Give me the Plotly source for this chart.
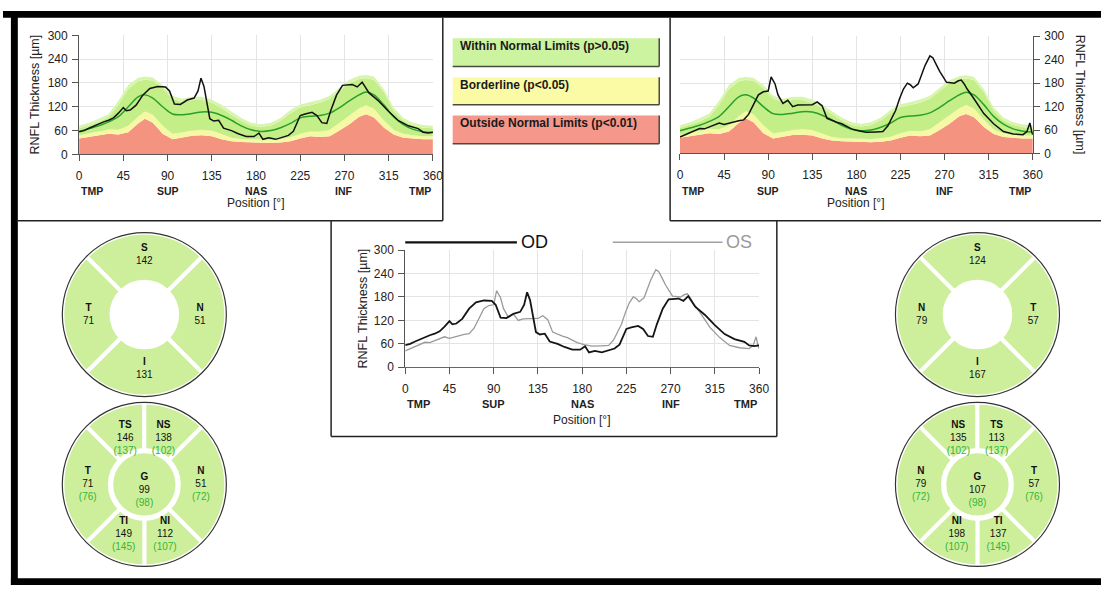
import plotly.graph_objects as go

W, H = 1111, 592
def px(x): return x / W
def py(y): return 1 - y / H

FONT = "Liberation Sans, Arial, sans-serif"

# ---------------- data ----------------
NORM_DEG = [0,10,20,30,40,50,60,67,75,85,95,105,115,125,135,145,155,165,175,185,195,205,215,225,235,245,255,265,275,285,292,300,310,320,330,340,350,360]
NORM_RED = [40,44,48,52,50,56,78,90,80,52,38,42,47,48,46,38,33,31,30,29,29,30,33,40,46,44,46,60,76,95,101,93,68,50,42,40,38,38]
NORM_YELLOW = [48,53,58,63,62,72,95,108,100,72,52,55,60,62,60,50,42,39,38,37,37,39,43,52,58,57,62,80,98,116,124,115,86,62,52,48,46,46]
NORM_GREEN_INNER = [66,73,82,94,125,165,184,188,186,167,140,132,137,137,130,117,100,85,73,69,73,85,104,118,124,130,140,160,180,190,192,188,157,110,85,73,67,66]
NORM_GREEN = [72,80,90,102,135,175,193,196,194,175,148,140,145,145,138,125,108,92,80,76,80,92,112,126,132,138,148,168,188,198,200,196,165,118,92,80,74,72]
NORM_MEAN = [58,65,72,82,95,120,145,150,142,120,102,100,103,107,106,98,86,72,62,58,60,67,78,92,96,98,104,118,135,150,157,150,125,95,75,63,57,55]

OD_DEG = [0,5,10,15,20,25,30,35,40,45,48,52,58,65,72,80,88,92,97,103,110,117,121,124,127,130,133,137,142,147,155,162,170,178,183,187,193,200,207,213,218,225,230,237,242,247,252,256,262,268,278,283,288,295,305,315,325,335,345,350,355,360]
OD_THK = [57,60,66,72,78,82,86,92,104,118,110,112,124,150,166,171,170,160,127,126,137,142,160,192,172,128,90,84,86,66,60,52,45,45,54,38,42,38,44,48,58,98,102,106,98,80,78,110,150,174,176,170,182,155,134,108,85,72,65,56,54,56]

OS_DEG = [0,5,10,15,20,25,30,35,40,45,50,55,60,65,70,75,80,85,90,93,97,100,105,110,115,120,128,135,140,145,150,155,160,165,175,182,190,200,207,212,216,220,224,228,232,235,238,243,247,250,255,258,262,265,272,277,280,284,287,290,293,300,310,320,330,340,350,354,357,359,360]
OS_THK = [42,48,54,60,64,63,68,72,78,74,78,80,84,86,100,125,150,158,160,196,178,150,128,136,120,124,125,125,132,122,90,84,80,76,63,58,54,55,56,70,90,110,140,165,180,176,168,178,205,225,250,245,225,210,182,180,180,186,188,178,165,140,102,76,56,50,48,56,78,55,48]

X_TICKS = [0, 45, 90, 135, 180, 225, 270, 315, 360]
Y_TICKS = [0, 60, 120, 180, 240, 300]
SECTOR_POS = [0, 90, 180, 270, 360]
SECTOR_NAMES = ["TMP", "SUP", "NAS", "INF", "TMP"]

# quadrant circles (theta of sector centre, 0 = right, counter-clockwise)
QUAD_THETA = [90, 180, 270, 0]
OD_QUAD_NAMES = ["S", "T", "I", "N"]
OD_QUAD_VALUES = [142, 71, 131, 51]
OS_QUAD_NAMES = ["S", "N", "I", "T"]
OS_QUAD_VALUES = [124, 79, 167, 57]

# six-sector circles
SECT_THETA = [112.5, 67.5, 0, 292.5, 247.5, 180]
SECT_WIDTH = [45, 45, 90, 45, 45, 90]
OD_SECT_NAMES = ["TS", "NS", "N", "NI", "TI", "T"]
OD_SECT_VALUES = [146, 138, 51, 112, 149, 71]
OD_SECT_NORMS = [137, 102, 72, 107, 145, 76]
OD_G = (99, 98)
OS_SECT_NAMES = ["NS", "TS", "T", "TI", "NI", "N"]
OS_SECT_VALUES = [135, 113, 57, 137, 198, 79]
OS_SECT_NORMS = [102, 137, 76, 145, 107, 72]
OS_G = (107, 98)

# ---------------- styles ----------------
C_RED = "#f4937f"
C_YEL = "#f7f8a4"
C_GRN = "#c3ee88"
C_GRN_FRINGE = "#d8f5ae"
C_MEAN = "#2a9f2a"
C_SECT = "#cdef9c"
C_NORMTXT = "#35b535"
GRID = "#e4e4e4"
AXC = "#555555"

fig = go.Figure()

def band(xa, ya, y, color, fill):
    fig.add_trace(go.Scatter(x=NORM_DEG, y=y, xaxis=xa, yaxis=ya, mode="lines",
                             line=dict(width=0, color=color), fill=fill, fillcolor=color,
                             hoverinfo="skip", showlegend=False))

def add_profile(xa, ya, deg, thk):
    band(xa, ya, NORM_RED, C_RED, "tozeroy")
    band(xa, ya, NORM_YELLOW, C_YEL, "tonexty")
    band(xa, ya, NORM_GREEN_INNER, C_GRN, "tonexty")
    band(xa, ya, NORM_GREEN, C_GRN_FRINGE, "tonexty")
    fig.add_trace(go.Scatter(x=NORM_DEG, y=NORM_MEAN, xaxis=xa, yaxis=ya, mode="lines",
                             line=dict(width=1.5, color=C_MEAN, shape="spline"),
                             hoverinfo="skip", showlegend=False))
    fig.add_trace(go.Scatter(x=deg, y=thk, xaxis=xa, yaxis=ya, mode="lines",
                             line=dict(width=1.5, color="#111111"), showlegend=False))

add_profile("x", "y", OD_DEG, OD_THK)
add_profile("x2", "y2", OS_DEG, OS_THK)

fig.add_trace(go.Scatter(x=OS_DEG, y=OS_THK, xaxis="x3", yaxis="y3", mode="lines",
                         line=dict(width=1.3, color="#9a9a9a"), showlegend=False))
fig.add_trace(go.Scatter(x=OD_DEG, y=OD_THK, xaxis="x3", yaxis="y3", mode="lines",
                         line=dict(width=1.8, color="#151515"), showlegend=False))

def xaxis(dom, anchor, linecolor=AXC, size=12):
    return dict(domain=dom, anchor=anchor, range=[0, 360], tickvals=X_TICKS,
                ticktext=[str(v) for v in X_TICKS], showgrid=True, gridcolor=GRID,
                zeroline=False, showline=True, linecolor=linecolor, linewidth=1,
                ticks="outside", ticklen=6, tickcolor=AXC, ticklabelstandoff=4,
                tickfont=dict(family=FONT, size=size, color="#222"), fixedrange=True)

def yaxis(dom, anchor, side="left", size=12):
    return dict(domain=dom, anchor=anchor, side=side, range=[0, 300], tickvals=Y_TICKS,
                showgrid=True, gridcolor=GRID, zeroline=False, showline=True,
                linecolor=AXC, linewidth=1, ticks="outside", ticklen=6, tickcolor=AXC,
                ticklabelstandoff=2,
                tickfont=dict(family=FONT, size=size, color="#222"), fixedrange=True)

# plot areas (pixels)
TL = (77, 435, 29, 151)
TR = (685, 1042, 30, 150)
CT = (407, 765, 249, 369)

def xd(a): return [px(a[0]), px(a[1])]
def yd(a): return [py(a[3]), py(a[2])]

layout_axes = dict(
    xaxis=xaxis(xd(TL), "y"), yaxis=yaxis(yd(TL), "x"),
    xaxis2=xaxis(xd(TR), "y2"), yaxis2=yaxis(yd(TR), "x2", side="right"),
    xaxis3=xaxis(xd(CT), "y3", linecolor="#a0503c"), yaxis3=yaxis(yd(CT), "x3"),
)

annotations = []
def txt(x, y, t, size=11, color="#222", xref="paper", yref="paper", angle=0, xanchor="center", yanchor="middle"):
    annotations.append(dict(x=x, y=y, xref=xref, yref=yref, text=t, showarrow=False,
                            textangle=angle, xanchor=xanchor, yanchor=yanchor,
                            font=dict(family=FONT, size=size, color=color)))

# sector labels under x axes + titles
for ax, box, ylab, ytit, fs in [("x", TL, 188, 201, 10.5), ("x2", TR, 188, 201, 10.5), ("x3", CT, 407, 423, 11)]:
    for i, (pos, name) in enumerate(zip(SECTOR_POS, SECTOR_NAMES)):
        anchor = "left" if i == 0 else ("right" if i == len(SECTOR_POS) - 1 else "center")
        txt(pos, py(ylab), "<b>%s</b>" % name, size=fs, xref=ax, xanchor=anchor)
    txt(px((box[0] + box[1]) / 2), py(ytit), "Position [°]", size=12)

txt(px(32), py(90), "RNFL Thickness [µm]", size=12.5, angle=-90)
txt(px(1090), py(90), "RNFL Thickness [µm]", size=12.5, angle=90)
txt(px(364), py(309), "RNFL Thickness [µm]", size=12.5, angle=-90)

# center legend
txt(px(522), py(241), "OD", size=18, color="#111", xanchor="left")
txt(px(730), py(241), "OS", size=18, color="#9a9a9a", xanchor="left")

# legend boxes
LEG = [("Within Normal Limits (p>0.05)", "#ccf3a0", 32, 61),
       ("Borderline (p<0.05)", "#fbfba6", 72, 100),
       ("Outside Normal Limits (p<0.01)", "#f5978a", 111, 140)]

shapes = []
for label, col, y0, y1 in LEG:
    shapes.append(dict(type="rect", xref="paper", yref="paper", x0=px(455), x1=px(664),
                       y0=py(y1), y1=py(y0), fillcolor=col, line=dict(width=0), layer="below"))
    shapes.append(dict(type="line", xref="paper", yref="paper", x0=px(455), x1=px(664),
                       y0=py(y1), y1=py(y1), line=dict(color="#4b4b3b", width=1.5)))
    shapes.append(dict(type="line", xref="paper", yref="paper", x0=px(664), x1=px(664),
                       y0=py(y1), y1=py(y0), line=dict(color="#4b4b3b", width=1.5)))
    txt(px(460), py(y0 + 8), "<b>%s</b>" % label, size=12, color="#1a1a1a", xanchor="left")

def line(x0, y0, x1, y1, color="#222", width=1.5):
    shapes.append(dict(type="line", xref="paper", yref="paper", x0=px(x0), x1=px(x1),
                       y0=py(y0), y1=py(y1), line=dict(color=color, width=width)))

# panel frames
line(445, 11, 445, 219)
line(15, 219, 445, 219)
line(675, 11, 675, 219)
line(675, 219, 1111, 219)
line(332, 219, 332, 440)
line(332, 440, 783, 440)
line(783, 219, 783, 440)
# center legend lines
line(407, 241, 520, 241, color="#111", width=2.2)
line(617, 241, 728, 241, color="#a0a0a0", width=1.5)

# outer black frame
for x0, y0, x1, y1 in [(0, 4, 1111, 11), (8, 4, 15, 592), (8, 585, 1111, 592)]:
    shapes.append(dict(type="rect", xref="paper", yref="paper", x0=px(x0), x1=px(x1),
                       y0=py(y1), y1=py(y0), fillcolor="black", line=dict(width=0)))

# ---------------- circles ----------------
def polar_layout(cx, cy, r):
    return dict(domain=dict(x=[px(cx - r), px(cx + r)], y=[py(cy + r), py(cy - r)]),
                bgcolor="rgba(0,0,0,0)",
                radialaxis=dict(visible=False, range=[0, 1]),
                angularaxis=dict(visible=True, showline=True, linecolor="#333", linewidth=1.2,
                                 showgrid=False, showticklabels=False, ticks="",
                                 rotation=0, direction="counterclockwise"))

def quad_circle(name, names, values):
    fig.add_trace(go.Barpolar(r=[0.6] * 4, base=[0.4] * 4, theta=QUAD_THETA, width=[90] * 4,
                              marker=dict(color=C_SECT, line=dict(color="white", width=4)),
                              subplot=name, showlegend=False, hoverinfo="skip"))
    texts = ["<b>%s</b><br>%d" % (n, v) for n, v in zip(names, values)]
    rr = [0.73, 0.68, 0.67, 0.68]
    fig.add_trace(go.Scatterpolar(r=rr, theta=QUAD_THETA, mode="text", text=texts,
                                  textfont=dict(family=FONT, size=10, color="#111"),
                                  subplot=name, showlegend=False, hoverinfo="skip"))

def sect_circle(name, names, values, norms, g):
    fig.add_trace(go.Barpolar(r=[0.58] * 6, base=[0.42] * 6, theta=SECT_THETA, width=SECT_WIDTH,
                              marker=dict(color=C_SECT, line=dict(color="white", width=4)),
                              subplot=name, showlegend=False, hoverinfo="skip"))
    fig.add_trace(go.Barpolar(r=[0.38], base=[0], theta=[0], width=[360],
                              marker=dict(color=C_SECT, line=dict(width=0)),
                              subplot=name, showlegend=False, hoverinfo="skip"))
    texts = ["<b>%s</b><br>%d<br><span style='color:%s'>(%d)</span>" % (n, v, C_NORMTXT, m)
             for n, v, m in zip(names, values, norms)]
    texts.append("<b>G</b><br>%d<br><span style='color:%s'>(%d)</span>" % (g[0], C_NORMTXT, g[1]))
    fig.add_trace(go.Scatterpolar(r=[0.61, 0.61, 0.69, 0.66, 0.66, 0.69, 0.08],
                                  theta=SECT_THETA + [270],
                                  mode="text", text=texts,
                                  textfont=dict(family=FONT, size=10, color="#111"),
                                  subplot=name, showlegend=False, hoverinfo="skip"))

quad_circle("polar", OD_QUAD_NAMES, OD_QUAD_VALUES)
sect_circle("polar2", OD_SECT_NAMES, OD_SECT_VALUES, OD_SECT_NORMS, OD_G)
quad_circle("polar3", OS_QUAD_NAMES, OS_QUAD_VALUES)
sect_circle("polar4", OS_SECT_NAMES, OS_SECT_VALUES, OS_SECT_NORMS, OS_G)

fig.update_layout(
    width=W, height=H, margin=dict(l=0, r=0, t=0, b=0),
    paper_bgcolor="white", plot_bgcolor="white",
    font=dict(family=FONT, color="#222"),
    showlegend=False,
    polar=polar_layout(143, 315, 84),
    polar2=polar_layout(143, 489, 84),
    polar3=polar_layout(986, 315, 84),
    polar4=polar_layout(986, 489, 84),
    annotations=annotations, shapes=shapes,
    **layout_axes,
)

fig.write_html("out.html")
